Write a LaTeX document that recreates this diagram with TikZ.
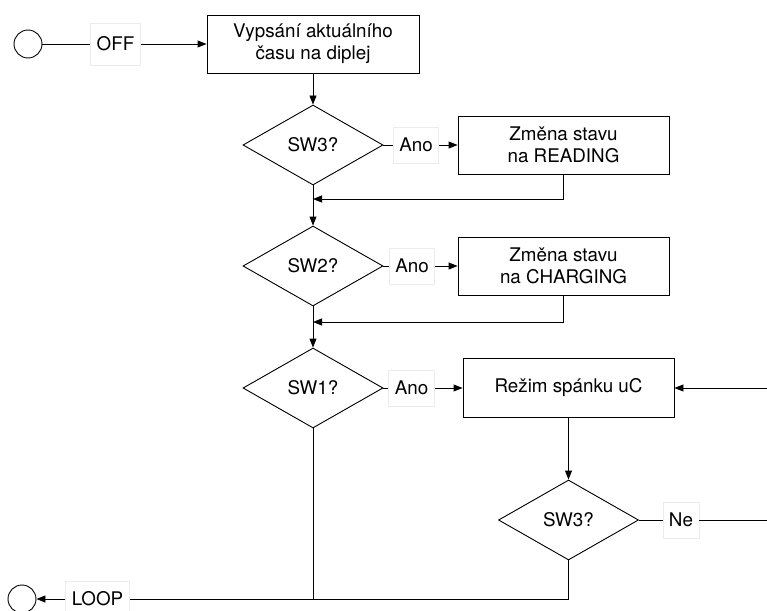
\documentclass[tikz,border=0pt]{standalone}
\usepackage{fontspec}
\setmainfont{TeX Gyre Heros}
\usetikzlibrary{shapes.geometric}
\usetikzlibrary{arrows.meta}

\tikzset{
  blok/.style={draw, line width=0.9pt, minimum width=212pt, minimum height=58pt, align=center, inner sep=0pt},
  rozhod/.style={draw, diamond, line width=0.9pt, minimum width=140pt, minimum height=80pt, inner sep=0pt},
  popis/.style={draw=gray!15, fill=white, line width=0.6pt, inner xsep=6pt, inner ysep=0pt, minimum height=36pt},
  kruh/.style={draw, circle, line width=0.9pt, minimum size=28pt, inner sep=0pt},
}

\begin{document}
\begin{tikzpicture}[x=1pt, y=-1pt, line width=0.9pt, >={Triangle[length=9pt,width=7pt]}, font=\fontsize{18.8}{22}\selectfont]

\useasboundingbox (0,0) rectangle (767,610);

% Start a vypsani casu
\node[kruh] (start) at (28,44) {};
\node[popis, minimum height=42pt] (off) at (115.5,44) {OFF};
\node[blok] (cas) at (313,44) {Vypsání aktuálního\\času na diplej};

% SW3 -> READING
\node[rozhod] (sw3) at (313,145) {SW3?};
\node[popis] (anoA) at (416,145) {Ano};
\node[blok, minimum width=211pt] (read) at (563.5,145) {Změna stavu\\na READING};
\coordinate (navratA) at (313,199);

% SW2 -> CHARGING
\node[rozhod] (sw2) at (313,266) {SW2?};
\node[popis] (anoB) at (412,266) {Ano};
\node[blok, minimum width=211pt] (charg) at (563.5,266) {Změna stavu\\na CHARGING};
\coordinate (navratB) at (313,322);

% SW1 -> rezim spanku
\node[rozhod] (sw1) at (313,388) {SW1?};
\node[popis] (anoC) at (411.5,388) {Ano};
\node[blok, minimum width=211pt, minimum height=59pt] (spanek) at (568.5,388) {Režim spánku uC};
\coordinate (vstup) at (767,388);

\node[rozhod] (sw3b) at (568.5,520) {SW3?};
\node[popis] (ne) at (681,520) {Ne};
\coordinate (vystup) at (767,520);

% LOOP
\node[popis] (loop) at (97.5,599) {LOOP};
\node[kruh] (konec) at (22,599) {};
\coordinate (spoj) at (313,599);

% Spojnice
\draw (start) -- (off);
\draw[->] (off) -- (cas);
\draw[->] (cas) -- (sw3);

\draw (sw3) -- (anoA);
\draw[->] (anoA) -- (read);
\draw[->] (read.south) |- (navratA);
\draw[->] (sw3) -- (sw2);

\draw (sw2) -- (anoB);
\draw[->] (anoB) -- (charg);
\draw[->] (charg.south) |- (navratB);
\draw[->] (sw2) -- (sw1);

\draw (sw1) -- (anoC);
\draw[->] (anoC) -- (spanek);
\draw[->] (vstup) -- (spanek);
\draw[->] (spanek) -- (sw3b);

\draw (sw3b) -- (ne);
\draw (ne) -- (vystup);

\draw (sw3b.south) |- (spoj) -- (loop);
\draw (sw1.south) -- (spoj);
\draw[->] (loop) -- (konec);

\end{tikzpicture}
\end{document}
